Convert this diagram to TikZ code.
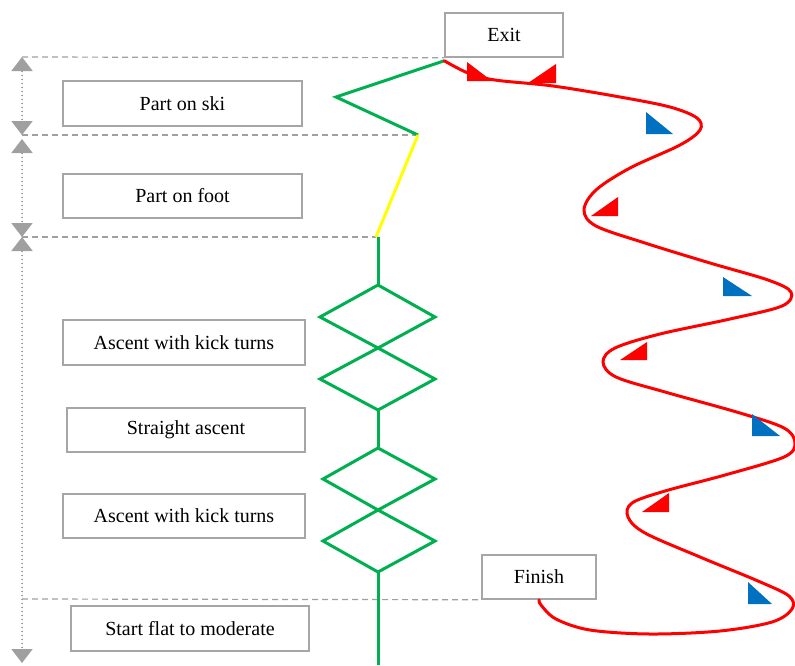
\documentclass[tikz,border=0pt]{standalone}
\usepackage{fontspec}
\setmainfont{Liberation Serif}
\usetikzlibrary{arrows.meta}
\definecolor{boxgray}{HTML}{A6A6A6}
\definecolor{dimgray}{HTML}{A0A0A0}
\definecolor{trailgreen}{HTML}{00B050}
\definecolor{trailyellow}{HTML}{FFFF00}
\definecolor{trailred}{HTML}{FF0000}
\definecolor{markblue}{HTML}{0070C0}
\tikzset{spantip/.tip={Triangle[width=21pt,length=14pt]}}

\begin{document}
\begin{tikzpicture}[x=1pt,y=-1pt,
  labelbox/.style={draw=boxgray, line width=1.5pt, fill=white, inner sep=0pt,
    minimum height=44pt, font=\fontsize{20}{24}\selectfont},
  guide/.style={draw=dimgray, line width=1.2pt, dash pattern=on 6pt off 4pt},
  span/.style={draw=dimgray, fill=dimgray, line width=1.8pt,
    dash pattern=on 1.8pt off 2.2pt, {spantip}-{spantip}},
  skiline/.style={draw=trailgreen, line width=3pt, line join=miter},
  footline/.style={draw=trailyellow, line width=3pt},
  descent/.style={draw=trailred, line width=3pt},
  redmark/.style={fill=trailred},
  bluemark/.style={fill=markblue}]
\useasboundingbox (0,0) rectangle (795,665);

% label boxes
\node[labelbox, minimum width=118pt] (exit) at (504,35) {Exit};
\node[labelbox, minimum width=239pt, minimum height=45pt] (ski) at (182.5,103.5) {Part on ski};
\node[labelbox, minimum width=239pt] (foot) at (182.5,196) {Part on foot};
\node[labelbox, minimum width=242pt, minimum height=45pt] (kick1) at (184,342.5) {Ascent with kick turns};
\node[labelbox, minimum width=238pt] (straight) at (186,430) {Straight ascent};
\node[labelbox, minimum width=242pt] (kick2) at (184,516) {Ascent with kick turns};
\node[labelbox, minimum width=114pt] (finish) at (539,577) {Finish};
\node[labelbox, minimum width=238pt, minimum height=45pt] (start) at (190,628.5) {Start flat to moderate};

% points of the ascent trail
\coordinate (top) at ([yshift=-3pt]exit.south west);
\coordinate (g1) at (336,97);
\coordinate (g2) at (418,135);
\coordinate (g3) at (376,237);
\coordinate (v0) at (378,237);
\coordinate (a1) at (378,285);
\coordinate (a2) at (378,348);
\coordinate (a3) at (378,410);
\coordinate (b1) at (378,448);
\coordinate (b2) at (378,510);
\coordinate (b3) at (378,572);
\coordinate (bottom) at (378,665);

% dimension marks on the left
\coordinate (m0) at (22,57);
\coordinate (m1) at (22,135);
\coordinate (m1b) at (22,139);
\coordinate (m2) at (22,237);
\coordinate (m3) at (22,599);
\coordinate (m4) at (22,663);

\draw[guide] (m0) -- (exit.south west);
\draw[guide] (m1) -- (g2);
\draw[guide] (m2) -- (g3);
\draw[guide] (m3) -- (finish.south west);

\draw[span] (m0) -- (m1);
\draw[span] (m1b) -- (m2);
\draw[span] (m2) -- (m4);

% ascent trail
\draw[skiline] (top) -- (g1) -- (g2);
\draw[footline] (g2) -- (g3);
\draw[skiline] (v0) -- (a1);
\draw[skiline] (a1) -- (320,317) -- (a2) -- (435,379) -- (a3) -- (320,379) -- (a2) -- (435,317) -- cycle;
\draw[skiline] (a3) -- (b1);
\draw[skiline] (b1) -- (323,479) -- (b2) -- (435,541) -- (b3) -- (323,541) -- (b2) -- (435,479) -- cycle;
\draw[skiline] (b3) -- (bottom);

% descent
\draw[descent, line cap=round] plot[smooth, tension=0.55] coordinates {
  (top) (468,73) (495,80) (553,86) (620,97) (670,107) (697,118) (700,130)
  (680,145) (630,168) (596,190) (584,210) (596,226) (645,243) (710,263)
  (768,280) (791,292) (782,306) (730,319) (660,334) (615,348) (603,362)
  (616,377) (665,392) (740,413) (784,428) (795,443) (784,457) (725,475)
  (665,491) (632,503) (628,517) (645,533) (700,557) (758,581) (789,596)
  (792,609) (772,622) (720,631) (650,634) (590,630) (556,619) (541,605)
  (finish.south)};

% direction marks
\fill[redmark] (467,62) -- (467,81) -- (492,81) -- cycle;
\fill[redmark] (556,64) -- (556,83) -- (528,83) -- cycle;
\fill[redmark] (618,197) -- (618,216) -- (591,216) -- cycle;
\fill[redmark] (647,342) -- (647,360) -- (620,360) -- cycle;
\fill[redmark] (669,493) -- (669,512) -- (642,512) -- cycle;
\fill[bluemark] (646,112) -- (646,134) -- (673,134) -- cycle;
\fill[bluemark] (723,277) -- (723,296) -- (752,296) -- cycle;
\fill[bluemark] (752,414) -- (752,436) -- (780,436) -- cycle;
\fill[bluemark] (748,582) -- (748,604) -- (772,604) -- cycle;
\end{tikzpicture}
\end{document}
